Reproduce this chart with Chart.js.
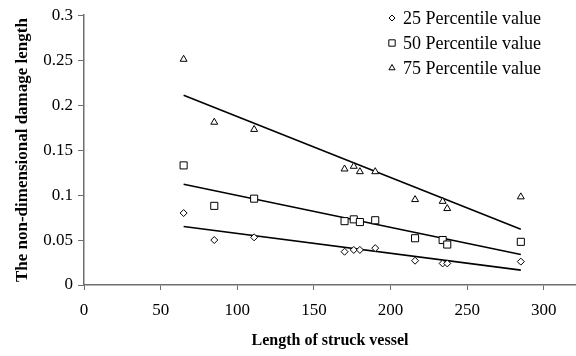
<!DOCTYPE html>
<html lang="en">
<head>
<meta charset="UTF-8">
<title>Non-dimensional damage length vs length of struck vessel</title>
<script src="https://cdn.jsdelivr.net/npm/chart.js@4.4.1/dist/chart.umd.min.js"></script>
<style>
  body { margin: 0; background: #fff; }
  canvas { display: block; }
</style>
</head>
<body>
<canvas id="chart" width="576" height="356"></canvas>
<script>
// data
const vesselLength = [65, 85, 111, 170, 176, 180, 190, 216, 234, 237, 285];
const p25 = [0.080, 0.050, 0.053, 0.037, 0.039, 0.039, 0.041, 0.027, 0.024, 0.024, 0.026];
const p50 = [0.133, 0.088, 0.096, 0.071, 0.073, 0.070, 0.072, 0.052, 0.050, 0.045, 0.048];
const p75 = [0.251, 0.181, 0.173, 0.129, 0.132, 0.126, 0.126, 0.095, 0.093, 0.085, 0.098];

// linear trend lines (end points)
const trendX = [65, 285];
const trend25 = [0.065, 0.0165];
const trend50 = [0.112, 0.034];
const trend75 = [0.211, 0.062];

const seriesLabels = ['25 Percentile value', '50 Percentile value', '75 Percentile value'];
const xTicks = [0, 50, 100, 150, 200, 250, 300];
const yTicks = [0, 0.05, 0.1, 0.15, 0.2, 0.25, 0.3];

const serif = '"Liberation Serif", "Times New Roman", serif';
Chart.defaults.font.family = serif;
Chart.defaults.color = '#000';

const pts = (xs, ys) => xs.map((x, i) => ({ x: x, y: ys[i] }));

function markerSet(label, values, style, r) {
  return {
    label: label,
    data: pts(vesselLength, values),
    pointStyle: style,
    pointRadius: r,
    pointBackgroundColor: '#fff',
    pointBorderColor: '#000',
    pointBorderWidth: 1,
    showLine: false
  };
}

function trendSet(values) {
  return {
    label: '',
    data: pts(trendX, values),
    showLine: true,
    borderColor: '#000',
    borderWidth: 1.6,
    pointRadius: 0,
    fill: false
  };
}

// the x axis runs to the right edge of the picture
const stretchX = {
  id: 'stretchX',
  afterLayout(chart) {
    const xs = chart.scales.x;
    xs.right = chart.width;
    xs.width = xs.right - xs.left;
    xs.configure();
    chart.chartArea.right = chart.width;
    chart.chartArea.width = chart.chartArea.right - chart.chartArea.left;
  }
};

// legend drawn inside the plot, top right
const legendBox = {
  id: 'legendBox',
  afterDraw(chart) {
    const ctx = chart.ctx;
    ctx.save();
    ctx.font = '18px ' + serif;
    ctx.textBaseline = 'middle';
    chart.data.datasets.slice(0, 3).forEach((ds, i) => {
      const y = 18 + i * 25;
      ctx.fillStyle = '#fff';
      ctx.strokeStyle = '#000';
      ctx.lineWidth = 1;
      Chart.helpers.drawPoint(ctx, { pointStyle: ds.pointStyle, radius: ds.pointRadius - 0.5, borderWidth: 1 }, 392, y);
      ctx.fillStyle = '#000';
      ctx.fillText(ds.label, 403, y + 1);
    });
    ctx.restore();
  }
};

const axisColor = '#6e6e6e';

new Chart(document.getElementById('chart'), {
  type: 'scatter',
  data: {
    datasets: [
      markerSet(seriesLabels[0], p25, 'rectRot', 3.5),
      markerSet(seriesLabels[1], p50, 'rect', 5),
      markerSet(seriesLabels[2], p75, 'triangle', 4),
      trendSet(trend25),
      trendSet(trend50),
      trendSet(trend75)
    ]
  },
  options: {
    responsive: false,
    animation: false,
    layout: { padding: { top: 12, right: 0, bottom: 0, left: 0 } },
    plugins: {
      legend: { display: false },
      tooltip: { enabled: false }
    },
    scales: {
      x: {
        type: 'linear',
        min: 0,
        max: 321,
        afterBuildTicks: s => { s.ticks = xTicks.map(v => ({ value: v })); },
        afterFit: s => { s.height = 71; },
        grid: { drawOnChartArea: false, color: axisColor, tickLength: 5 },
        border: { color: axisColor, width: 1.5 },
        ticks: { font: { size: 17 }, padding: 10, maxRotation: 0 },
        title: { display: true, text: 'Length of struck vessel', font: { size: 16, weight: 'bold' }, padding: { top: 0, bottom: 6 } }
      },
      y: {
        min: 0,
        max: 0.3,
        afterBuildTicks: s => { s.ticks = yTicks.map(v => ({ value: v })); },
        afterFit: s => { s.width = 84; },
        grid: { drawOnChartArea: false, color: axisColor, tickLength: 6 },
        border: { color: axisColor, width: 1.5 },
        ticks: {
          font: { size: 17 },
          padding: 5,
          callback: v => String(Math.round(v * 100) / 100)
        },
        title: { display: true, text: 'The non-dimensional damage length', font: { size: 17, weight: 'bold' }, padding: { top: 12, bottom: 0 } }
      }
    }
  },
  plugins: [stretchX, legendBox]
});
</script>
</body>
</html>
